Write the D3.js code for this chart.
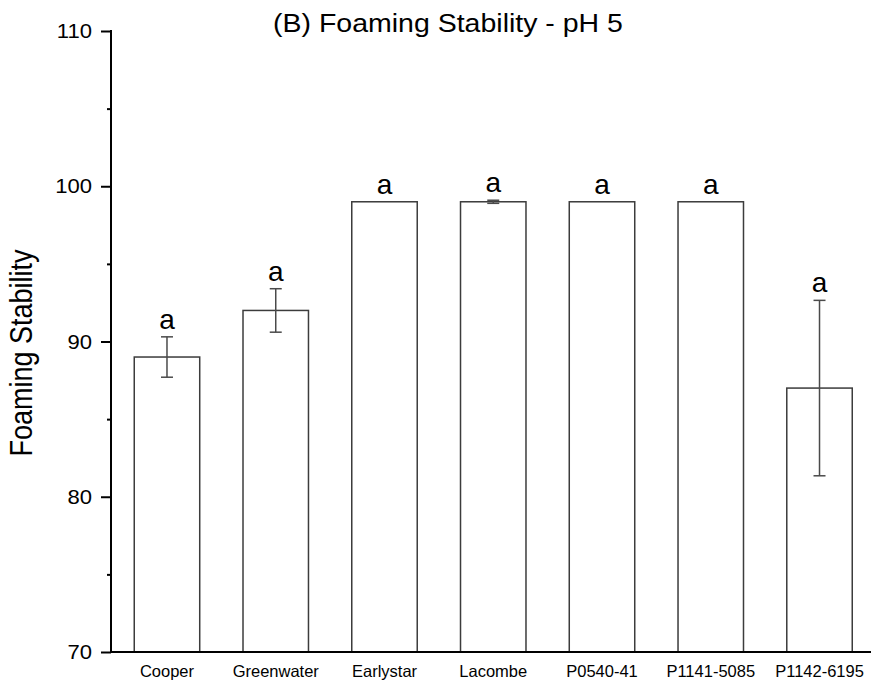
<!DOCTYPE html>
<html>
<head>
<meta charset="utf-8">
<script src="https://cdn.jsdelivr.net/npm/d3@7"></script>
<style>
  html, body { margin: 0; padding: 0; background: #fff; }
  svg { display: block; font-family: "Liberation Sans", Arial, sans-serif; }
</style>
</head>
<body>
<svg id="chart" width="871" height="685"></svg>
<script>
// Foaming stability at pH 5, per variety (mean ± SD) with significance letters
const categories = ["Cooper", "Greenwater", "Earlystar", "Lacombe", "P0540-41", "P1141-5085", "P1142-6195"];
const means = [89, 92, 99, 99, 99, 99, 87];
const errors = [1.3, 1.4, 0, 0.1, 0, 0, 5.65];
const letters = ["a", "a", "a", "a", "a", "a", "a"];
const yTicks = [70, 80, 90, 100, 110];
const yMinorTicks = [75, 85, 95, 105];

const svg = d3.select("#chart");
const W = 871, H = 685;
const axisX = 111, axisY = 652, topY = 31;
const stretch = 1.14; // wide letterforms for titles

const x = d3.scaleBand()
  .domain(categories)
  .range([axisX + 1.5, 874])
  .paddingInner(0.398)
  .paddingOuter(0.2);

const y = d3.scaleLinear().domain([70, 110]).range([axisY, topY]);

// Bars
svg.append("g").selectAll("rect")
  .data(categories)
  .join("rect")
  .attr("x", d => x(d))
  .attr("y", (d, i) => y(means[i]))
  .attr("width", x.bandwidth())
  .attr("height", (d, i) => axisY - y(means[i]))
  .attr("fill", "#fff")
  .attr("stroke", "#3c3c3c")
  .attr("stroke-width", 1.5);

// Error bars
const capW = 12;
const eg = svg.append("g").attr("stroke", "#4a4a4a").attr("stroke-width", 1.5);
categories.forEach((c, i) => {
  if (!(errors[i] > 0)) return;
  const cx = x(c) + x.bandwidth() / 2;
  const y1 = y(means[i] + errors[i]), y0 = y(means[i] - errors[i]);
  eg.append("line").attr("x1", cx).attr("x2", cx).attr("y1", y1).attr("y2", y0);
  eg.append("line").attr("x1", cx - capW / 2).attr("x2", cx + capW / 2).attr("y1", y1).attr("y2", y1);
  eg.append("line").attr("x1", cx - capW / 2).attr("x2", cx + capW / 2).attr("y1", y0).attr("y2", y0);
});

// Significance letters
svg.append("g").selectAll("text")
  .data(categories)
  .join("text")
  .attr("x", d => x(d) + x.bandwidth() / 2)
  .attr("y", (d, i) => y(means[i] + errors[i]) - 8)
  .attr("text-anchor", "middle")
  .attr("font-size", 28)
  .attr("fill", "#000")
  .text((d, i) => letters[i]);

// Y axis: major ticks with labels, minor ticks without
const yAxis = d3.axisLeft(y).tickValues(yTicks).tickSize(10).tickPadding(0).tickFormat(d3.format("d"));
const gy = svg.append("g").attr("transform", `translate(${axisX},0)`).call(yAxis);
gy.select(".domain").remove();
gy.selectAll(".tick line").attr("stroke", "#000").attr("stroke-width", 2);
gy.selectAll(".tick text")
  .attr("x", 0)
  .attr("transform", "translate(-19,0) scale(1.05,1)")
  .attr("font-size", 21)
  .attr("font-family", "Liberation Sans, Arial, sans-serif")
  .attr("fill", "#000");

const yMinor = d3.axisLeft(y).tickValues(yMinorTicks).tickSize(4).tickFormat("");
const gym = svg.append("g").attr("transform", `translate(${axisX},0)`).call(yMinor);
gym.select(".domain").remove();
gym.selectAll(".tick line").attr("stroke", "#000").attr("stroke-width", 2);

svg.append("line")
  .attr("x1", axisX).attr("x2", axisX)
  .attr("y1", topY - 1).attr("y2", axisY + 1)
  .attr("stroke", "#000").attr("stroke-width", 2);

// X axis: baseline and category labels
const xAxis = d3.axisBottom(x).tickSize(0).tickPadding(13);
const gx = svg.append("g").attr("transform", `translate(0,${axisY})`).call(xAxis);
gx.select(".domain").remove();
gx.selectAll(".tick text").attr("font-size", 16.5).attr("font-family", "Liberation Sans, Arial, sans-serif").attr("fill", "#000");

svg.append("line")
  .attr("x1", axisX - 1).attr("x2", W)
  .attr("y1", axisY).attr("y2", axisY)
  .attr("stroke", "#000").attr("stroke-width", 2);

// Title
svg.append("text")
  .attr("transform", `translate(448,32) scale(${stretch},1)`)
  .attr("text-anchor", "middle")
  .attr("font-size", 25)
  .attr("fill", "#000")
  .text("(B) Foaming Stability - pH 5");

// Y axis title
svg.append("text")
  .attr("transform", `translate(32,353) scale(${stretch},1) rotate(-90)`)
  .attr("text-anchor", "middle")
  .attr("font-size", 27)
  .attr("fill", "#000")
  .text("Foaming Stability");
</script>
</body>
</html>
